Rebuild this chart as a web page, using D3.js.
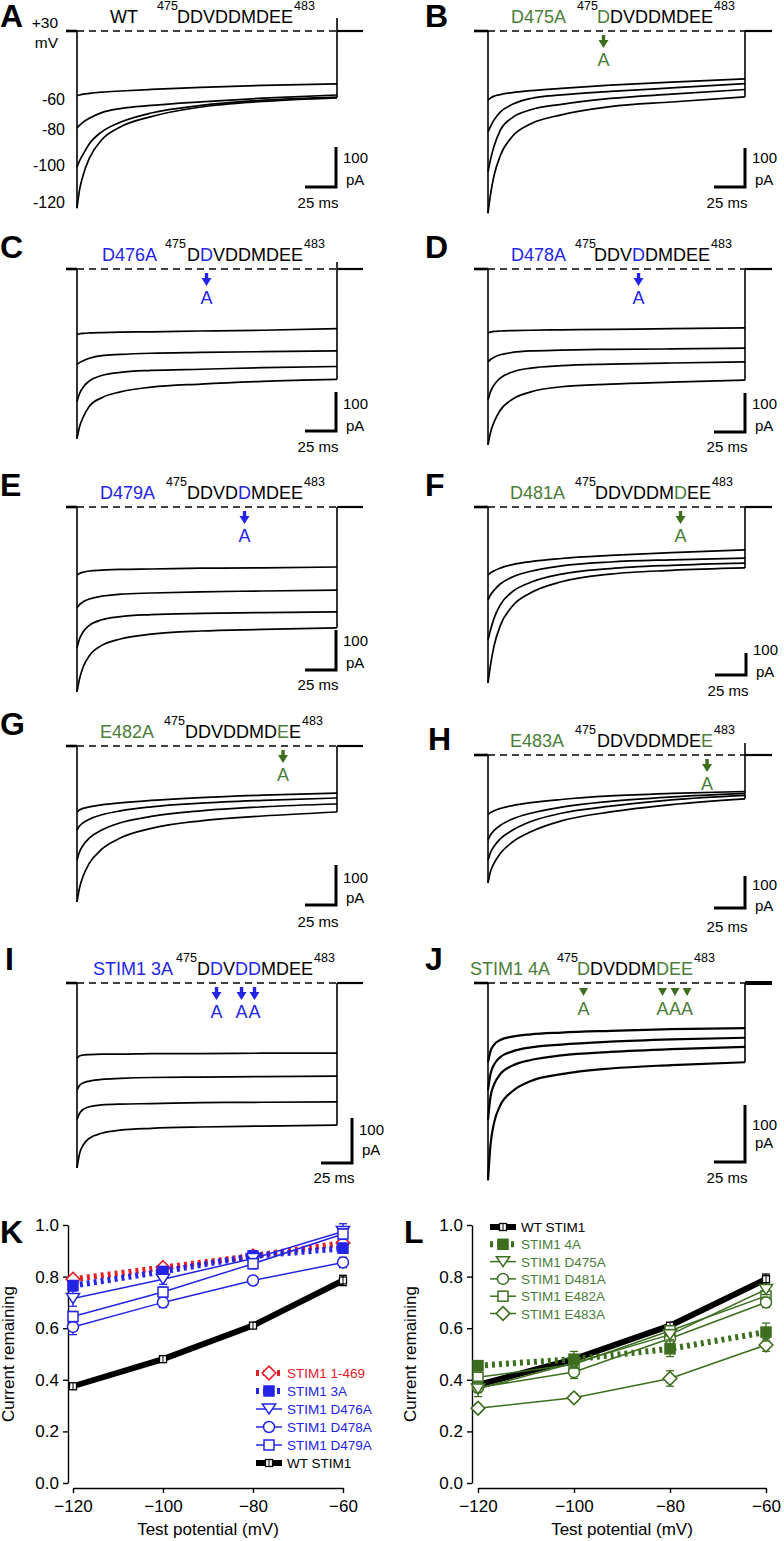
<!DOCTYPE html>
<html><head><meta charset="utf-8">
<script src="https://cdn.jsdelivr.net/npm/d3@7"></script>
<style>
body{margin:0;background:#fff}
svg{display:block}
text{font-family:"Liberation Sans",Arial,Helvetica,sans-serif}
</style>
</head><body>
<svg id="fig" width="784" height="1541"></svg>
<script>
// ---------------- DATA ----------------
// time points (ms after the step) at which each current trace was read (pA, inward shown downward)
const timeMs = [0, 2, 5, 10, 20, 35, 60, 100, 150, 210];
const traceA = [
  [162,160,158,156,153,150,146,141,136,132],
  [242,236,228,218,204,194,186,177,168,160],
  [340,325,308,282,252,228,205,186,173,165],
  [443,398,360,318,272,240,214,190,176,167]];
const traceB = [
  [177,172,167,163,158,153,147,139,131,123],
  [259,245,228,208,188,173,164,155,146,135],
  [361,330,295,255,222,202,188,173,162,150],
  [467,420,370,320,270,238,215,194,182,169]];
const traceC = [
  [168,166,165,164,163,162,161,159,157,153],
  [245,240,235,229,222,219,216,214,212,210],
  [340,320,303,287,273,265,260,257,253,250],
  [435,405,380,352,330,315,303,295,288,283]];
const traceD = [
  [164,162,160,159,158,157,156,155,153,151],
  [238,232,226,220,214,210,208,206,205,203],
  [336,315,297,280,264,254,248,244,241,238],
  [451,420,392,362,334,315,302,295,290,285]];
const traceE = [
  [170,166,163,160,158,156,155,153,152,150],
  [252,244,237,230,223,218,215,212,210,208],
  [352,330,312,296,282,274,269,266,264,262],
  [462,430,400,372,346,330,318,310,306,302]];
const traceF = [
  [309,300,290,278,262,248,234,220,207,195],
  [423,400,378,350,318,292,268,250,240,232],
  [605,560,505,445,385,342,305,280,265,255],
  [800,720,630,540,450,390,340,305,288,277]];
const traceG = [
  [165,160,156,152,147,142,136,129,123,118],
  [210,200,192,183,172,162,152,143,136,130],
  [285,265,248,230,210,192,176,162,152,145],
  [390,355,325,293,258,230,206,187,175,165]];
const traceH = [
  [186,180,174,167,158,149,139,128,120,114],
  [266,250,236,220,200,182,163,145,131,120],
  [329,305,285,262,235,208,182,160,140,126],
  [400,365,338,308,272,240,206,178,155,137]];
const traceI = [
  [167,162,160,159,158,158,157,157,156,156],
  [238,228,222,218,214,212,210,209,208,207],
  [304,290,281,275,271,269,268,266,265,264],
  [411,380,360,345,334,327,323,320,318,316]];
const traceJ = [
  [139,120,108,100,94,90,87,84,81,79],
  [188,160,143,130,120,113,108,103,99,96],
  [240,200,178,160,145,135,127,121,116,112],
  [346,285,245,215,190,172,160,150,144,139]];

const sequence = ["D","D","V","D","D","M","D","E","E"];
const seqStart = 475, seqEnd = 483;
const stepLabels = ["+30","mV","-60","-80","-100","-120"];

// K & L: fraction of current remaining vs test potential
const potentials = [-120, -100, -80, -60];
const kNames = ["STIM1 1-469","STIM1 3A","STIM1 D476A","STIM1 D478A","STIM1 D479A","WT STIM1"];
const k1469   = [0.79, 0.835, 0.88, 0.93];
const k1469E  = [0.01, 0.01, 0.02, 0.02];
const k3A     = [0.765, 0.82, 0.88, 0.91];
const k3AE    = [0.02, 0.01, 0.02, 0.02];
const kD476A  = [0.715, 0.79, 0.87, 0.975];
const kD476AE = [0.03, 0.02, 0.02, 0.03];
const kD478A  = [0.605, 0.70, 0.785, 0.855];
const kD478AE = [0.03, 0.02, 0.015, 0.02];
const kD479A  = [0.645, 0.74, 0.85, 0.965];
const kD479AE = [0.02, 0.02, 0.02, 0.02];
const kWT     = [0.375, 0.48, 0.61, 0.785];
const kWTE    = [0.01, 0.01, 0.01, 0.02];

const lNames = ["WT STIM1","STIM1 4A","STIM1 D475A","STIM1 D481A","STIM1 E482A","STIM1 E483A"];
const lWT     = [0.38, 0.48, 0.61, 0.79];
const lWTE    = [0.01, 0.01, 0.01, 0.02];
const l4A     = [0.455, 0.48, 0.52, 0.585];
const l4AE    = [0.01, 0.03, 0.03, 0.035];
const lD475A  = [0.365, 0.465, 0.575, 0.75];
const lD475AE = [0.03, 0.02, 0.02, 0.02];
const lD481A  = [0.37, 0.43, 0.56, 0.70];
const lD481AE = [0.02, 0.025, 0.02, 0.02];
const lE482A  = [0.41, 0.46, 0.59, 0.725];
const lE482AE = [0.02, 0.02, 0.02, 0.02];
const lE483A  = [0.29, 0.33, 0.405, 0.535];
const lE483AE = [0.015, 0.015, 0.03, 0.025];
const yTicks = [0, 0.2, 0.4, 0.6, 0.8, 1.0];

// ---------------- STYLE / LAYOUT ----------------
const BLACK = "#000", GREEN_T = "#4b7c3a", GREEN = "#3d6e1f", BLUE = "#2424e6", RED = "#e3202a";
const svg = d3.select("#fig");
const F = '"Liberation Sans",Arial,sans-serif';

const panels = [
  {id:"A", col:0, base:31,  bar:40, data:traceA, mut:"WT", color:BLACK, pos:[], lab:110, sup:157, seqX:177, spike:13, sbx:336, sby:187, t100:163, tpA:185, tms:208},
  {id:"B", col:1, base:31,  bar:39, data:traceB, mut:"D475A", color:GREEN_T, pos:[475], lab:511, sup:577, seqX:597, spike:0, sbx:745, sby:187, t100:163, tpA:185, tms:208},
  {id:"C", col:0, base:269, bar:39, data:traceC, mut:"D476A", color:BLUE, pos:[476], lab:102, sup:165, seqX:187, spike:7, sbx:336, sby:431, t100:409, tpA:431, tms:452},
  {id:"D", col:1, base:269, bar:39, data:traceD, mut:"D478A", color:BLUE, pos:[478], lab:511, sup:575, seqX:594, spike:0, sbx:745, sby:432, t100:409, tpA:431, tms:452},
  {id:"E", col:0, base:507, bar:40, data:traceE, mut:"D479A", color:BLUE, pos:[479], lab:100, sup:166, seqX:187, spike:0, sbx:336, sby:670, t100:646, tpA:668, tms:690},
  {id:"F", col:1, base:507, bar:22, data:traceF, mut:"D481A", color:GREEN_T, pos:[481], lab:510, sup:575, seqX:595, spike:0, sbx:746, sby:675, t100:655, tpA:677, tms:696},
  {id:"G", col:0, base:746, bar:40, data:traceG, mut:"E482A", color:GREEN_T, pos:[482], lab:100, sup:164, seqX:185, spike:0, sbx:336, sby:905, t100:883, tpA:903, tms:927},
  {id:"H", col:1, base:755, bar:32, data:traceH, mut:"E483A", color:GREEN_T, pos:[483], lab:510, sup:575, seqX:597, spike:12, sbx:745, sby:908, t100:890, tpA:911, tms:932},
  {id:"I", col:0, base:983, bar:45, data:traceI, mut:"STIM1 3A", color:BLUE, pos:[476,478,479], lab:93, sup:176, seqX:197, spike:0, sbx:352, sby:1163, t100:1135, tpA:1155, tms:1183},
  {id:"J", col:1, base:983, bar:57, data:traceJ, mut:"STIM1 4A", color:GREEN_T, pos:[475,481,482,483], lab:470, sup:557, seqX:577, spike:0, sbx:745, sby:1162, t100:1130, tpA:1148, tms:1183, tri:true}
];
const letterPos = {A:[0,27],B:[425,27],C:[0,258],D:[425,258],E:[0,496],F:[425,496],G:[0,735],H:[428,750],I:[5,970],J:[425,970]};

function drawPanel(p){
  const x0 = p.col===0 ? 77 : 488, x1 = p.col===0 ? 337 : 745;
  const x = d3.scaleLinear().domain([0, 210]).range([x0, x1]);
  const y = d3.scaleLinear().domain([0, 100]).range([p.base, p.base + p.bar]);
  const g = svg.append("g");
  g.append("text").attr("x", letterPos[p.id][0]).attr("y", letterPos[p.id][1])
    .style("font-size","32px").style("font-weight","bold").text(p.id);
  g.append("line").attr("x1", x0 - (p.col?14:11)).attr("x2", x0).attr("y1", p.base).attr("y2", p.base)
    .attr("stroke","#000").attr("stroke-width",2.6);
  g.append("line").attr("x1", x1).attr("x2", x1 + (p.col?27:26)).attr("y1", p.base).attr("y2", p.base)
    .attr("stroke","#000").attr("stroke-width", p.id==="J"?4:2.2);
  g.append("line").attr("x1", x0).attr("x2", x1).attr("y1", p.base).attr("y2", p.base)
    .attr("stroke","#000").attr("stroke-width",1.4).attr("stroke-dasharray","7,5");
  const maxPeak = d3.max(p.data, d => d[0]);
  const maxEnd = d3.max(p.data, d => d[d.length-1]);
  g.append("line").attr("x1", x0).attr("x2", x0).attr("y1", p.base).attr("y2", y(maxPeak))
    .attr("stroke","#000").attr("stroke-width",1.6);
  g.append("line").attr("x1", x1).attr("x2", x1).attr("y1", p.base - p.spike).attr("y2", y(maxEnd))
    .attr("stroke","#000").attr("stroke-width",1.6);
  const line = d3.line().x((d,i) => x(timeMs[i])).y(d => y(d)).curve(d3.curveMonotoneX);
  p.data.forEach(tr => {
    g.append("path").attr("d", line(tr)).attr("fill","none").attr("stroke","#000")
      .attr("stroke-width", p.id==="J" ? 2.2 : 1.7);
  });
  // header
  g.append("text").attr("x", p.lab).attr("y", p.base - 8).attr("fill", p.color)
    .style("font-size","18px").text(p.mut);
  g.append("text").attr("x", p.sup).attr("y", p.base - 21).style("font-size","12.5px").text(seqStart);
  const t = g.append("text").attr("x", p.seqX).attr("y", p.base - 8).style("font-size","18px");
  sequence.forEach((c,i) => t.append("tspan").attr("fill", p.pos.includes(seqStart+i) ? p.color : "#000").text(c));
  const node = t.node();
  const endX = p.seqX + node.getComputedTextLength();
  g.append("text").attr("x", endX + 1).attr("y", p.base - 21).style("font-size","12.5px").text(seqEnd);
  const arrowCol = p.color === BLUE ? BLUE : GREEN;
  p.pos.forEach(pos => {
    const i = pos - seqStart;
    const cx = (node.getStartPositionOfChar(i).x + node.getEndPositionOfChar(i).x) / 2;
    const b = p.base;
    if (p.tri) {
      g.append("path").attr("d", `M${cx-4.5},${b+5}L${cx+4.5},${b+5}L${cx},${b+13}Z`).attr("fill", arrowCol);
    } else {
      g.append("rect").attr("x", cx-1.7).attr("y", b+4).attr("width",3.4).attr("height",6).attr("fill", arrowCol);
      g.append("path").attr("d", `M${cx-5},${b+9}L${cx+5},${b+9}L${cx},${b+17}Z`).attr("fill", arrowCol);
    }
    g.append("text").attr("x", cx).attr("y", b + (p.tri?32:35)).attr("text-anchor","middle")
      .attr("fill", p.color).style("font-size","18px").text("A");
  });
  g.append("path").attr("d", `M${p.sbx-31},${p.sby}H${p.sbx}V${p.sby - p.bar}`)
    .attr("fill","none").attr("stroke","#000").attr("stroke-width",3);
  g.append("text").attr("x", p.sbx + 7).attr("y", p.t100).style("font-size","15px").text("100");
  g.append("text").attr("x", p.sbx + 10).attr("y", p.tpA).style("font-size","15px").text("pA");
  g.append("text").attr("x", p.sbx - 18).attr("y", p.tms).attr("text-anchor","middle").style("font-size","15px").text("25 ms");
}
panels.forEach(drawPanel);

[[58,28],[58,48],[65,105],[65,135],[65,171],[65,208]].forEach((pos,i) => {
  svg.append("text").attr("x", pos[0]).attr("y", pos[1]).attr("text-anchor","end")
    .style("font-size", i<2 ? "15.5px" : "16px").text(stepLabels[i]);
});

// ---------------- K & L ----------------
function marker(g, type, cx, cy, col, filled, size){
  const s = size || 10;
  if (type === "circle") {
    g.append("circle").attr("cx",cx).attr("cy",cy).attr("r",s/2).attr("fill",filled?col:"#fff").attr("stroke",col).attr("stroke-width",1.5);
  } else if (type === "square") {
    g.append("rect").attr("x",cx-s/2).attr("y",cy-s/2).attr("width",s).attr("height",s).attr("fill",filled?col:"#fff").attr("stroke",col).attr("stroke-width",1.5);
  } else if (type === "diamond") {
    const r = s*0.62;
    g.append("path").attr("d",`M${cx},${cy-r}L${cx+r},${cy}L${cx},${cy+r}L${cx-r},${cy}Z`).attr("fill",filled?col:"#fff").attr("stroke",col).attr("stroke-width",1.6);
  } else if (type === "tri") {
    const h = s*0.9, w = s*0.6;
    g.append("path").attr("d",`M${cx-w},${cy-h/2}L${cx+w},${cy-h/2}L${cx},${cy+h/2}Z`).attr("fill",filled?col:"#fff").attr("stroke",col).attr("stroke-width",1.5);
  } else if (type === "wt") {
    g.append("rect").attr("x",cx-3.5).attr("y",cy-3.5).attr("width",7).attr("height",7).attr("fill","#fff").attr("stroke",col).attr("stroke-width",1.3);
    g.append("line").attr("x1",cx).attr("x2",cx).attr("y1",cy-4).attr("y2",cy+4).attr("stroke",col).attr("stroke-width",1);
  }
}

function chart(cfg){
  const x = d3.scaleLinear().domain([-120,-60]).range(cfg.xr);
  const y = d3.scaleLinear().domain([0,1]).range([1483,1225]);
  const g = svg.append("g");
  const ya = g.append("g").attr("transform",`translate(${cfg.yaxX},0)`)
    .call(d3.axisLeft(y).tickValues(yTicks).tickFormat(d3.format(".1f")).tickSize(5).tickSizeOuter(0).tickPadding(4));
  const xa = g.append("g").attr("transform",`translate(0,1488)`)
    .call(d3.axisBottom(x).tickValues(potentials).tickSize(5).tickSizeOuter(0).tickPadding(7));
  [ya, xa].forEach(a => {
    a.selectAll("text").style("font-size","17px").style("font-family",F).attr("fill","#000");
    a.selectAll("line,path").attr("stroke","#000").attr("stroke-width",1.4);
  });
  g.append("text").attr("x", (cfg.xr[0]+cfg.xr[1])/2).attr("y",1535).attr("text-anchor","middle")
    .style("font-size","17px").text("Test potential (mV)");
  g.append("text").attr("transform",`translate(${cfg.ylabX},1354) rotate(-90)`).attr("text-anchor","middle")
    .style("font-size","17px").text("Current remaining");
  g.append("text").attr("x",cfg.letter[0]).attr("y",cfg.letter[1]).style("font-size","32px").style("font-weight","bold").text(cfg.id);

  const ln = d3.line().x((d,i) => x(potentials[i])).y(d => y(d));
  cfg.series.forEach(s => {
    const sg = g.append("g");
    sg.append("path").attr("d", ln(s.v)).attr("fill","none").attr("stroke",s.col)
      .attr("stroke-width", s.w).attr("stroke-dasharray", s.dash || null);
    s.v.forEach((v,i) => {
      const cx = x(potentials[i]), e = s.e[i];
      sg.append("line").attr("x1",cx).attr("x2",cx).attr("y1",y(v+e)).attr("y2",y(v-e)).attr("stroke",s.col).attr("stroke-width",1.3);
      [v+e, v-e].forEach(q => sg.append("line").attr("x1",cx-4).attr("x2",cx+4).attr("y1",y(q)).attr("y2",y(q)).attr("stroke",s.col).attr("stroke-width",1.3));
      marker(sg, s.m, cx, y(v), s.col, s.fill, s.size);
    });
  });
  cfg.legendOrder.forEach((s,i) => {
    const cy = cfg.leg[1] + i*cfg.legStep;
    const lg = g.append("g");
    lg.append("line").attr("x1",cfg.leg[0]).attr("x2",cfg.leg[0]+26).attr("y1",cy).attr("y2",cy)
      .attr("stroke",s.col).attr("stroke-width",s.w).attr("stroke-dasharray",s.dash||null);
    marker(lg, s.m, cfg.leg[0]+13, cy, s.col, s.fill, s.size);
    lg.append("text").attr("x",cfg.leg[0]+31).attr("y",cy+5).attr("fill",s.tcol).style("font-size","13.5px").text(s.name);
  });
}

const kSer = [
  {name:kNames[5], v:kWT, e:kWTE, col:BLACK, tcol:BLACK, w:6, m:"wt"},
  {name:kNames[0], v:k1469, e:k1469E, col:RED, tcol:RED, w:6, dash:"3,4", m:"diamond", size:11},
  {name:kNames[1], v:k3A, e:k3AE, col:BLUE, tcol:BLUE, w:6, dash:"3,4", m:"square", fill:true, size:10},
  {name:kNames[2], v:kD476A, e:kD476AE, col:BLUE, tcol:BLUE, w:1.5, m:"tri", size:11},
  {name:kNames[3], v:kD478A, e:kD478AE, col:BLUE, tcol:BLUE, w:1.5, m:"circle", size:11},
  {name:kNames[4], v:kD479A, e:kD479AE, col:BLUE, tcol:BLUE, w:1.5, m:"square", size:10}
];
chart({id:"K", xr:[73,343], yaxX:68, ylabX:14, letter:[0,1243], series:kSer,
  legendOrder:[kSer[1],kSer[2],kSer[3],kSer[4],kSer[5],kSer[0]], leg:[256,1373], legStep:18});

const lSer = [
  {name:lNames[5], v:lE483A, e:lE483AE, col:GREEN, tcol:GREEN_T, w:1.5, m:"diamond", size:11},
  {name:lNames[4], v:lE482A, e:lE482AE, col:GREEN, tcol:GREEN_T, w:1.5, m:"square", size:10},
  {name:lNames[3], v:lD481A, e:lD481AE, col:GREEN, tcol:GREEN_T, w:1.5, m:"circle", size:11},
  {name:lNames[2], v:lD475A, e:lD475AE, col:GREEN, tcol:GREEN_T, w:1.5, m:"tri", size:11},
  {name:lNames[1], v:l4A, e:l4AE, col:GREEN, tcol:GREEN_T, w:6, dash:"3,4", m:"square", fill:true, size:10},
  {name:lNames[0], v:lWT, e:lWTE, col:BLACK, tcol:BLACK, w:6, m:"wt"}
];
chart({id:"L", xr:[478,766], yaxX:472, ylabX:416, letter:[404,1243], series:[lSer[5],lSer[0],lSer[1],lSer[2],lSer[3],lSer[4]],
  legendOrder:[lSer[5],lSer[4],lSer[3],lSer[2],lSer[1],lSer[0]], leg:[490,1227], legStep:17.3});
</script>
</body></html>
